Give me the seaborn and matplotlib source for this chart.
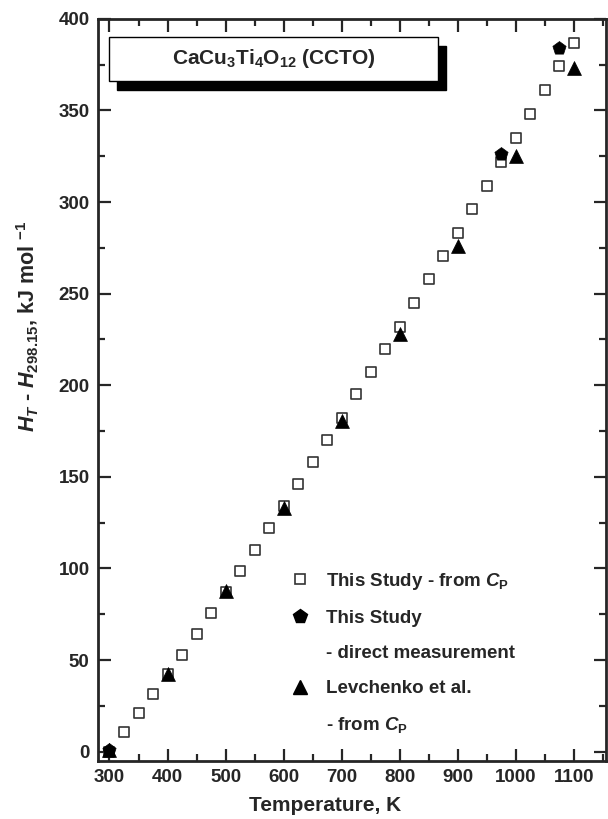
import numpy as np
import pandas as pd
import seaborn as sns
from matplotlib import pyplot as plt
from matplotlib.lines import Line2D
from matplotlib.patches import Rectangle
from matplotlib.ticker import MultipleLocator

# data
temp_cp = [300, 325, 350, 375, 400, 425, 450, 475, 500, 525, 550, 575, 600,
           625, 650, 675, 700, 725, 750, 775, 800, 825, 850, 875, 900, 925,
           950, 975, 1000, 1025, 1050, 1075, 1100]
h_cp = [0, 10.5, 21, 31.5, 42.5, 53, 64, 75.5, 87, 98.5, 110, 122, 134,
        146, 158, 170, 182, 195, 207, 220, 232, 245, 258, 270.5, 283, 296,
        309, 322, 335, 348, 361, 374.5, 387]

temp_direct = [300, 975, 1075]
h_direct = [1, 326, 384]

temp_levch = [300, 400, 500, 600, 700, 800, 900, 1000, 1100]
h_levch = [1, 42.5, 87.5, 133, 180.5, 228, 276, 325, 373]

df_cp = pd.DataFrame({"T": temp_cp, "H": h_cp})
df_direct = pd.DataFrame({"T": temp_direct, "H": h_direct})
df_levch = pd.DataFrame({"T": temp_levch, "H": h_levch})

sns.set_theme(style="ticks")
plt.rcParams["font.family"] = ["Liberation Sans", "DejaVu Sans"]
plt.rcParams["font.weight"] = "bold"
plt.rcParams["mathtext.fontset"] = "custom"
plt.rcParams["mathtext.rm"] = "Liberation Sans:bold"
plt.rcParams["mathtext.it"] = "Liberation Sans:bold:italic"
plt.rcParams["mathtext.bf"] = "Liberation Sans:bold"

fig = plt.figure(figsize=(6.08, 8.19), dpi=100)
ax = fig.add_axes([0.161, 0.071, 0.835, 0.906])

sns.scatterplot(data=df_cp, x="T", y="H", marker="s", s=52, color="white",
                edgecolor="#333333", linewidth=1.2, ax=ax, zorder=3)
sns.scatterplot(data=df_direct, x="T", y="H", marker="p", s=100, color="black",
                edgecolor="black", linewidth=0.5, ax=ax, zorder=4)
sns.scatterplot(data=df_levch, x="T", y="H", marker="^", s=100, color="black",
                edgecolor="black", linewidth=0.5, ax=ax, zorder=5)

ax.set_xlim(280, 1155)
ax.set_ylim(-5, 400)
ax.xaxis.set_major_locator(MultipleLocator(100))
ax.xaxis.set_minor_locator(MultipleLocator(50))
ax.yaxis.set_major_locator(MultipleLocator(50))
ax.yaxis.set_minor_locator(MultipleLocator(25))
ax.tick_params(which="both", direction="in", top=True, right=True,
               labelsize=13.5, width=1.6, pad=6)
ax.tick_params(which="major", length=9)
ax.tick_params(which="minor", length=5)
for sp in ax.spines.values():
    sp.set_linewidth(2)
for lab in ax.get_xticklabels() + ax.get_yticklabels():
    lab.set_fontweight("bold")

ax.set_xlabel("Temperature, K", fontsize=15, fontweight="bold")
ax.xaxis.set_label_coords(0.447, -0.048)
ax.set_ylabel(r"$H_T$ - $H_{\mathrm{298.15}}$, kJ mol $^{\mathrm{-1}}$",
              fontsize=15.5, fontweight="bold")
ax.yaxis.set_label_coords(-0.112, 0.586)

# title box with drop shadow
bx, by, bw, bh = 0.0217, 0.9164, 0.649, 0.0593
ax.add_patch(Rectangle((bx + 0.0157, by - 0.0121), bw, bh, transform=ax.transAxes,
                       facecolor="black", edgecolor="black", zorder=6))
ax.add_patch(Rectangle((bx, by), bw, bh, transform=ax.transAxes,
                       facecolor="white", edgecolor="black", linewidth=1, zorder=7))
ax.text(bx + bw / 2, by + bh / 2, r"CaCu$_\mathrm{3}$Ti$_\mathrm{4}$O$_\mathrm{12}$ (CCTO)",
        transform=ax.transAxes, ha="center", va="center", fontsize=15,
        fontweight="bold", zorder=8)

handles = [
    Line2D([], [], linestyle="none", marker="s", markersize=7.2, markerfacecolor="white",
           markeredgecolor="#333333", markeredgewidth=1.2),
    Line2D([], [], linestyle="none", marker="p", markersize=10, color="black"),
    Line2D([], [], linestyle="none"),
    Line2D([], [], linestyle="none", marker="^", markersize=10, color="black"),
    Line2D([], [], linestyle="none"),
]
labels = [
    r"This Study - from $C_\mathrm{P}$",
    "This Study",
    "- direct measurement",
    "Levchenko et al.",
    r"- from $C_\mathrm{P}$",
]
leg = ax.legend(handles, labels, loc="upper left", bbox_to_anchor=(0.343, 0.279),
                frameon=False, fontsize=13.5, labelspacing=0.96, handletextpad=0.8,
                handlelength=1.2)
for t in leg.get_texts():
    t.set_fontweight("bold")

fig.savefig("out.png", dpi=100)
